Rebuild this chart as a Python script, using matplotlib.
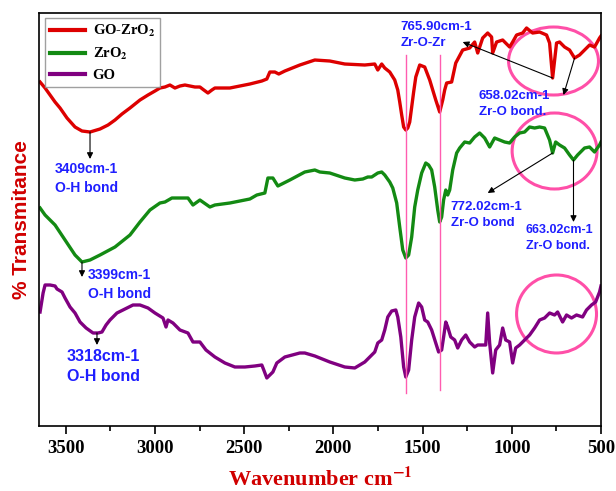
import matplotlib
matplotlib.use("Agg")
import matplotlib.pyplot as plt
from matplotlib.patches import Ellipse
from matplotlib.ticker import MultipleLocator

plt.rcParams["mathtext.fontset"] = "stix"

# FTIR spectra (wavenumber cm-1, transmittance in arbitrary offset units)
go_zro2_wn = [3644, 3616, 3588, 3560, 3532, 3493, 3448, 3409, 3364, 3308, 3263, 3224, 3185, 3140,
              3084, 3039, 3000, 2972, 2944, 2916, 2888, 2860, 2832, 2804, 2776, 2748, 2726, 2703,
              2681, 2664, 2580, 2468, 2401, 2373, 2356, 2328, 2306, 2272, 2188, 2104, 2020, 1936,
              1824, 1768, 1751, 1729, 1712, 1684, 1656, 1639, 1628, 1617, 1606, 1594, 1583, 1572,
              1561, 1550, 1538, 1516, 1488, 1460, 1443, 1426, 1415, 1404, 1387, 1376, 1365, 1337,
              1314, 1275, 1236, 1208, 1191, 1163, 1135, 1113, 1107, 1085, 1051, 1012, 995, 973,
              939, 917, 883, 844, 805, 788, 771, 749, 732, 704, 676, 648, 620, 592, 564, 536,
              508, 500]
go_zro2_t = [344, 338, 331, 324, 318, 308, 299, 295, 294, 297, 301, 306, 312, 318,
             326, 331, 335, 338, 339, 341, 338, 340, 341, 340, 339, 339, 336, 333,
             336, 338, 338, 342, 345, 347, 354, 354, 352, 355, 361, 366, 365, 362,
             361, 362, 356, 362, 358, 354, 346, 336, 324, 311, 299, 296, 298, 304,
             319, 334, 349, 361, 359, 346, 336, 326, 320, 314, 326, 336, 343, 344,
             363, 376, 378, 384, 373, 388, 393, 389, 373, 384, 386, 379, 384, 391,
             393, 398, 393, 394, 391, 383, 348, 383, 384, 379, 376, 368, 371, 376, 381, 379,
             388, 390]

zro2_wn = [3644, 3616, 3560, 3504, 3448, 3409, 3364, 3308, 3224, 3140, 3084, 3028, 2972, 2944,
           2905, 2860, 2815, 2787, 2748, 2692, 2664, 2580, 2468, 2429, 2384, 2367, 2339, 2311,
           2244, 2160, 2104, 2076, 2020, 1936, 1880, 1835, 1807, 1785, 1751, 1729, 1712, 1684,
           1667, 1645, 1628, 1611, 1594, 1578, 1561, 1544, 1527, 1505, 1482, 1466, 1449, 1432,
           1415, 1404, 1393, 1382, 1370, 1359, 1348, 1331, 1309, 1292, 1264, 1236, 1208, 1180,
           1152, 1124, 1096, 1068, 1040, 1012, 984, 956, 928, 900, 872, 844, 816, 788, 771,
           754, 732, 704, 676, 654, 631, 592, 564, 536, 508, 500]
zro2_t = [218, 211, 201, 186, 171, 164, 166, 171, 179, 191, 204, 216, 223, 224,
          228, 228, 228, 221, 226, 219, 221, 223, 227, 231, 233, 248, 248, 240,
          246, 254, 256, 254, 253, 248, 246, 247, 249, 249, 253, 254, 251, 244,
          238, 223, 199, 176, 168, 171, 189, 219, 236, 253, 263, 261, 256, 239,
          216, 204, 209, 226, 236, 231, 236, 256, 273, 278, 284, 283, 289, 293,
          288, 279, 288, 286, 284, 283, 289, 293, 294, 299, 298, 299, 298, 286, 273,
          284, 281, 278, 271, 266, 271, 278, 279, 274, 281, 284]

go_wn = [3644, 3627, 3616, 3588, 3560, 3549, 3521, 3504, 3476, 3448, 3420, 3386, 3347, 3319,
         3297, 3274, 3252, 3213, 3168, 3123, 3084, 3039, 3000, 2955, 2938, 2927, 2899, 2860,
         2815, 2787, 2748, 2714, 2664, 2608, 2552, 2496, 2440, 2401, 2390, 2373, 2356, 2339,
         2317, 2272, 2188, 2160, 2104, 2020, 1936, 1880, 1852, 1824, 1796, 1768, 1751, 1729,
         1712, 1695, 1673, 1650, 1639, 1622, 1606, 1594, 1578, 1561, 1544, 1522, 1505, 1488,
         1471, 1449, 1426, 1410, 1393, 1382, 1370, 1359, 1342, 1320, 1303, 1281, 1258, 1236,
         1208, 1191, 1169, 1146, 1135, 1124, 1107, 1090, 1068, 1051, 1034, 1012, 995, 978,
         956, 928, 900, 872, 844, 816, 788, 760, 743, 715, 693, 665, 637, 603, 581, 553,
         530, 508, 500]
go_t = [114, 133, 141, 141, 140, 137, 134, 128, 119, 113, 104, 98, 93, 93,
        94, 101, 106, 113, 117, 121, 121, 118, 113, 108, 99, 106, 103, 96,
        93, 84, 84, 76, 69, 63, 59, 59, 60, 61, 56, 48, 51, 54,
        63, 69, 73, 73, 70, 64, 59, 58, 61, 64, 69, 74, 83, 86,
        96, 109, 115, 116, 109, 89, 59, 49, 56, 86, 109, 123, 119, 106,
        104, 96, 83, 74, 76, 89, 104, 99, 89, 86, 78, 86, 91, 84,
        79, 81, 81, 81, 113, 83, 53, 76, 81, 98, 86, 84, 63, 78,
        81, 86, 91, 98, 106, 108, 113, 111, 114, 104, 111, 108, 111, 109, 116, 121,
        124, 134, 140]

series = [
    ("GO-ZrO$_\\mathbf{2}$", go_zro2_wn, go_zro2_t, "#dd0000"),
    ("ZrO$_\\mathbf{2}$", zro2_wn, zro2_t, "#138a13"),
    ("GO", go_wn, go_t, "#800080"),
]

# reference lines for the 1590 / 1400 bands
band_lines = [(1594, 33, 371), (1404, 36, 371)]

# (text, text x, text top, arrow start x, y, arrow tip x, y, fontsize)
notes = [
    ("3409cm-1\nO-H bond", 3560, 264, 3364, 294, 3364, 267, 10),
    ("3399cm-1\nO-H bond", 3375, 158, 3409, 164, 3409, 149, 10),
    ("3318cm-1\nO-H bond", 3493, 77, 3325, 93, 3325, 81, 11.5),
    ("765.90cm-1\nZr-O-Zr", 1623, 405, 771, 348, 1275, 384, 9.5),
    ("658.02cm-1\nZr-O bond.", 1186, 336, 648, 368, 710, 331, 9.5),
    ("772.02cm-1\nZr-O bond", 1343, 225, 771, 273, 1135, 233, 9.5),
    ("663.02cm-1\nZr-O bond.", 923, 202, 654, 266, 654, 204, 9),
]

# highlight circles: centre wn, centre T, width (cm-1), height
circles = [(766, 365, 504, 68), (760, 275, 476, 76), (749, 112, 448, 78)]

fig = plt.figure(figsize=(6.16, 4.91), dpi=100)
ax = fig.add_axes([0.0633, 0.1324, 0.9123, 0.8411])

for label, wn, t, color in series:
    ax.plot(wn, t, color=color, lw=2.4, label=label, solid_joinstyle="round")

for wn, y0, y1 in band_lines:
    ax.plot([wn, wn], [y0, y1], color="#ff5cb0", lw=1.0)

for cx, cy, w, h in circles:
    ax.add_patch(Ellipse((cx, cy), w, h, fill=False, ec="#ff4fa8", lw=2.2))

for text, tx, ty, x0, y0, x1, y1, fs in notes:
    ax.annotate("", xy=(x1, y1), xytext=(x0, y0),
                arrowprops=dict(arrowstyle="-|>", color="black", lw=0.8,
                                mutation_scale=9, shrinkA=0, shrinkB=0))
    ax.text(tx, ty, text, color="#1f1fff", fontsize=fs, fontweight="bold",
            family="Liberation Sans", ha="left", va="top", linespacing=1.45)

ax.set_xlim(3650, 500)
ax.set_ylim(0, 413)
ax.xaxis.set_major_locator(MultipleLocator(500))
ax.xaxis.set_minor_locator(MultipleLocator(250))
ax.set_yticks([])
ax.tick_params(axis="x", which="major", direction="out", length=6, width=1.2,
               labelsize=13.5, pad=4)
ax.tick_params(axis="x", which="minor", direction="out", length=3.5, width=1.2)
for lab in ax.get_xticklabels():
    lab.set_family("Liberation Serif")
    lab.set_fontweight("bold")
for sp in ax.spines.values():
    sp.set_linewidth(1.2)

ax.set_xlabel("Wavenumber cm$^{\\mathbf{-1}}$", color="#d00000", fontsize=16,
              fontweight="bold", family="Liberation Serif", labelpad=8)
ax.set_ylabel("% Transmitance", color="#d00000", fontsize=15, fontweight="bold",
              family="Liberation Sans", labelpad=6)

leg = ax.legend(loc="upper left", bbox_to_anchor=(0.011, 0.988), borderaxespad=0,
                fancybox=False, edgecolor="#888888", handlelength=2.4,
                prop={"family": "Liberation Serif", "weight": "bold", "size": 10.5},
                labelspacing=0.45, borderpad=0.35, handletextpad=0.5)
leg.get_frame().set_linewidth(1.0)
for h in leg.get_lines():
    h.set_linewidth(3)

fig.savefig("out.png", dpi=100)
